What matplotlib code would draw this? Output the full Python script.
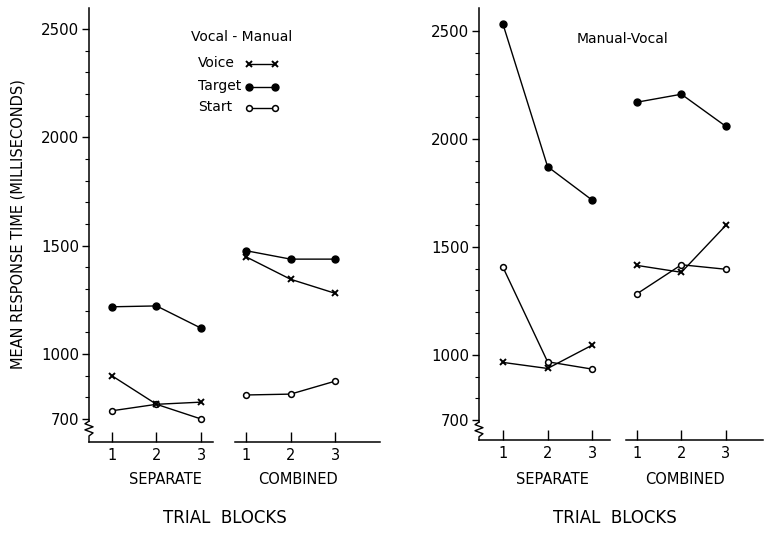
import matplotlib
matplotlib.use("Agg")
import matplotlib.pyplot as plt
import matplotlib.transforms as mtransforms
from matplotlib.lines import Line2D

plt.rcParams['font.family'] = ['DejaVu Sans']

# ---------------- data ----------------
block_labels = ['1', '2', '3', '1', '2', '3']
sep_x = [1, 2, 3]
comb_x = [4, 5, 6]

# Vocal - Manual (left panel)
vm_voice_sep = [900, 768, 778]
vm_voice_comb = [1449, 1345, 1280]
vm_target_sep = [1218, 1222, 1119]
vm_target_comb = [1477, 1438, 1438]
vm_start_sep = [738, 768, 700]
vm_start_comb = [811, 815, 875]

# Manual - Vocal (right panel)
mv_voice_sep = [966, 938, 1046]
mv_voice_comb = [1415, 1383, 1601]
mv_target_sep = [2531, 1872, 1717]
mv_target_comb = [2170, 2207, 2058]
mv_start_sep = [1406, 969, 935]
mv_start_comb = [1283, 1418, 1397]

legend_labels = ['Voice', 'Target', 'Start']
major_ticks = [700, 1000, 1500, 2000, 2500]
minor_ticks = list(range(800, 2600, 100))

W, H = 765, 555
fig = plt.figure(figsize=(W / 100, H / 100), dpi=100)


def px_axes(l, t, r, b):
    return fig.add_axes([l / W, 1 - b / H, (r - l) / W, (b - t) / H])


styles = {
    'voice': dict(marker='x', ms=4, mew=1.4, color='black', lw=1.0),
    'target': dict(marker='o', ms=5.0, mfc='black', mec='black', color='black', lw=1.0),
    'start': dict(marker='o', ms=4.2, mfc='white', mec='black', mew=1.1, color='black', lw=1.0),
}


def draw_panel(ax, xlim, ylim, sep_end, comb_start, data):
    ax.set_xlim(*xlim)
    ax.set_ylim(*ylim)
    for key in ['start', 'target', 'voice']:
        s, c = data[key]
        ax.plot(sep_x, s, clip_on=False, **styles[key])
        ax.plot(comb_x, c, clip_on=False, **styles[key])
    for sp in ['top', 'right', 'bottom']:
        ax.spines[sp].set_visible(False)
    ax.spines['left'].set_bounds(690, ylim[1])
    ax.spines['left'].set_linewidth(1.1)
    # broken x axis
    tr = mtransforms.blended_transform_factory(ax.transData, ax.transAxes)
    ax.plot([xlim[0], sep_end], [0, 0], color='black', lw=1.1, transform=tr, clip_on=False)
    ax.plot([comb_start, xlim[1]], [0, 0], color='black', lw=1.1, transform=tr, clip_on=False)
    # break squiggle on the y axis
    tr2 = mtransforms.blended_transform_factory(ax.transAxes, ax.transData)
    dx = 0.014
    sq_y = [690, 678, 664, 650, 636, 622, ylim[0]]
    sq_x = [0, -dx, dx, -dx, dx, 0, 0]
    ax.plot(sq_x, sq_y, color='black', lw=1.0, transform=tr2, clip_on=False)

    ax.set_yticks(major_ticks)
    ax.set_yticklabels([str(t) for t in major_ticks])
    ax.set_yticks(minor_ticks, minor=True)
    ax.tick_params(axis='y', which='major', direction='out', length=5, width=1, pad=2,
                   labelsize=10.8)
    ax.tick_params(axis='y', which='minor', direction='out', length=3, width=0.8)
    ax.set_xticks(range(1, 7))
    ax.set_xticklabels(block_labels)
    ax.tick_params(axis='x', direction='in', length=7, width=1, pad=4, labelsize=10.5)


# left panel
axL = px_axes(89, 8, 380, 442)
draw_panel(axL, (0.49, 7.0), (594, 2597), 3.27, 3.75, {
    'voice': (vm_voice_sep, vm_voice_comb),
    'target': (vm_target_sep, vm_target_comb),
    'start': (vm_start_sep, vm_start_comb),
})

# manual legend (figure pixel positions)
fig.text(242 / W, 1 - 37 / H, 'Vocal - Manual', ha='center', va='center', fontsize=10)
for lab, key, yc in zip(legend_labels, ['voice', 'target', 'start'], [63, 86, 107]):
    fig.text(198 / W, 1 - yc / H, lab, ha='left', va='center', fontsize=10)
    fig.add_artist(Line2D([249 / W, 275 / W], [1 - (yc + 1) / H] * 2,
                          transform=fig.transFigure, **styles[key]))

# right panel
axR = px_axes(479, 8, 763, 440)
draw_panel(axR, (0.462, 6.83), (607, 2606), 3.4, 3.76, {
    'voice': (mv_voice_sep, mv_voice_comb),
    'target': (mv_target_sep, mv_target_comb),
    'start': (mv_start_sep, mv_start_comb),
})
fig.text(622 / W, 1 - 39 / H, 'Manual-Vocal', ha='center', va='center', fontsize=10)

# labels
fig.text(18 / W, 1 - 224 / H, 'MEAN RESPONSE TIME (MILLISECONDS)', rotation=90,
         ha='center', va='center', fontsize=10.5)
for cx, txt in [(165, 'SEPARATE'), (298, 'COMBINED'), (552, 'SEPARATE'), (685, 'COMBINED')]:
    fig.text(cx / W, 1 - 479 / H, txt, ha='center', va='center', fontsize=10.5)
for cx in [225, 615]:
    fig.text(cx / W, 1 - 518 / H, 'TRIAL  BLOCKS', ha='center', va='center', fontsize=12)

fig.savefig('out.png', dpi=100)
